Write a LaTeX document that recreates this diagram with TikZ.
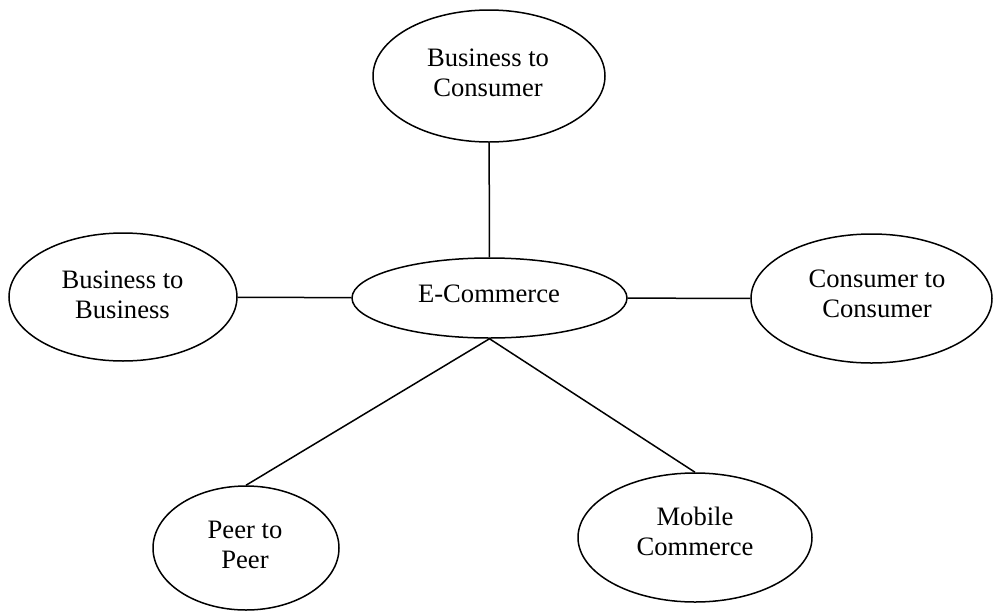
\documentclass[tikz,border=0pt]{standalone}
\usepackage{fontspec}
\setmainfont{Liberation Serif}
\usetikzlibrary{shapes.geometric}
\begin{document}
\begin{tikzpicture}[x=1pt,y=-1pt,
  bubble/.style={ellipse, draw=black, line width=1.5pt, inner sep=0pt},
  label/.style={align=center, inner sep=0pt, font=\fontsize{26.6}{30}\selectfont},
  link/.style={line width=1.5pt}]
\useasboundingbox (0,0) rectangle (994,611);
% ellipses
\node[bubble, minimum width=275pt, minimum height=80pt] (ec) at (489.5,298) {};
\node[bubble, minimum width=232pt, minimum height=132pt] (b2c) at (489,76) {};
\node[bubble, minimum width=228pt, minimum height=128pt] (b2b) at (123,297) {};
\node[bubble, minimum width=241pt, minimum height=129pt] (c2c) at (871.5,298.5) {};
\node[bubble, minimum width=186pt, minimum height=124pt] (p2p) at (246,548) {};
\node[bubble, minimum width=234pt, minimum height=129pt] (mc) at (695,537.5) {};
% texts
\node[label] (ect) at (489,294) {E-Commerce};
\node[label] (b2ct) at (488,73) {Business to\\Consumer};
\node[label] (b2bt) at (122.5,295) {Business to\\Business};
\node[label] (c2ct) at (877,294) {Consumer to\\Consumer};
\node[label] (p2pt) at (245,544.5) {Peer to\\Peer};
\node[label] (mct) at (695,531) {Mobile\\Commerce};
% connectors
\draw[link] (b2c) -- (ec);
\draw[link] (b2b) -- (ec);
\draw[link] (ec) -- (c2c);
\draw[link] (ec.south) -- (p2p.north);
\draw[link] (ec.south) -- (mc.north);
\end{tikzpicture}
\end{document}
